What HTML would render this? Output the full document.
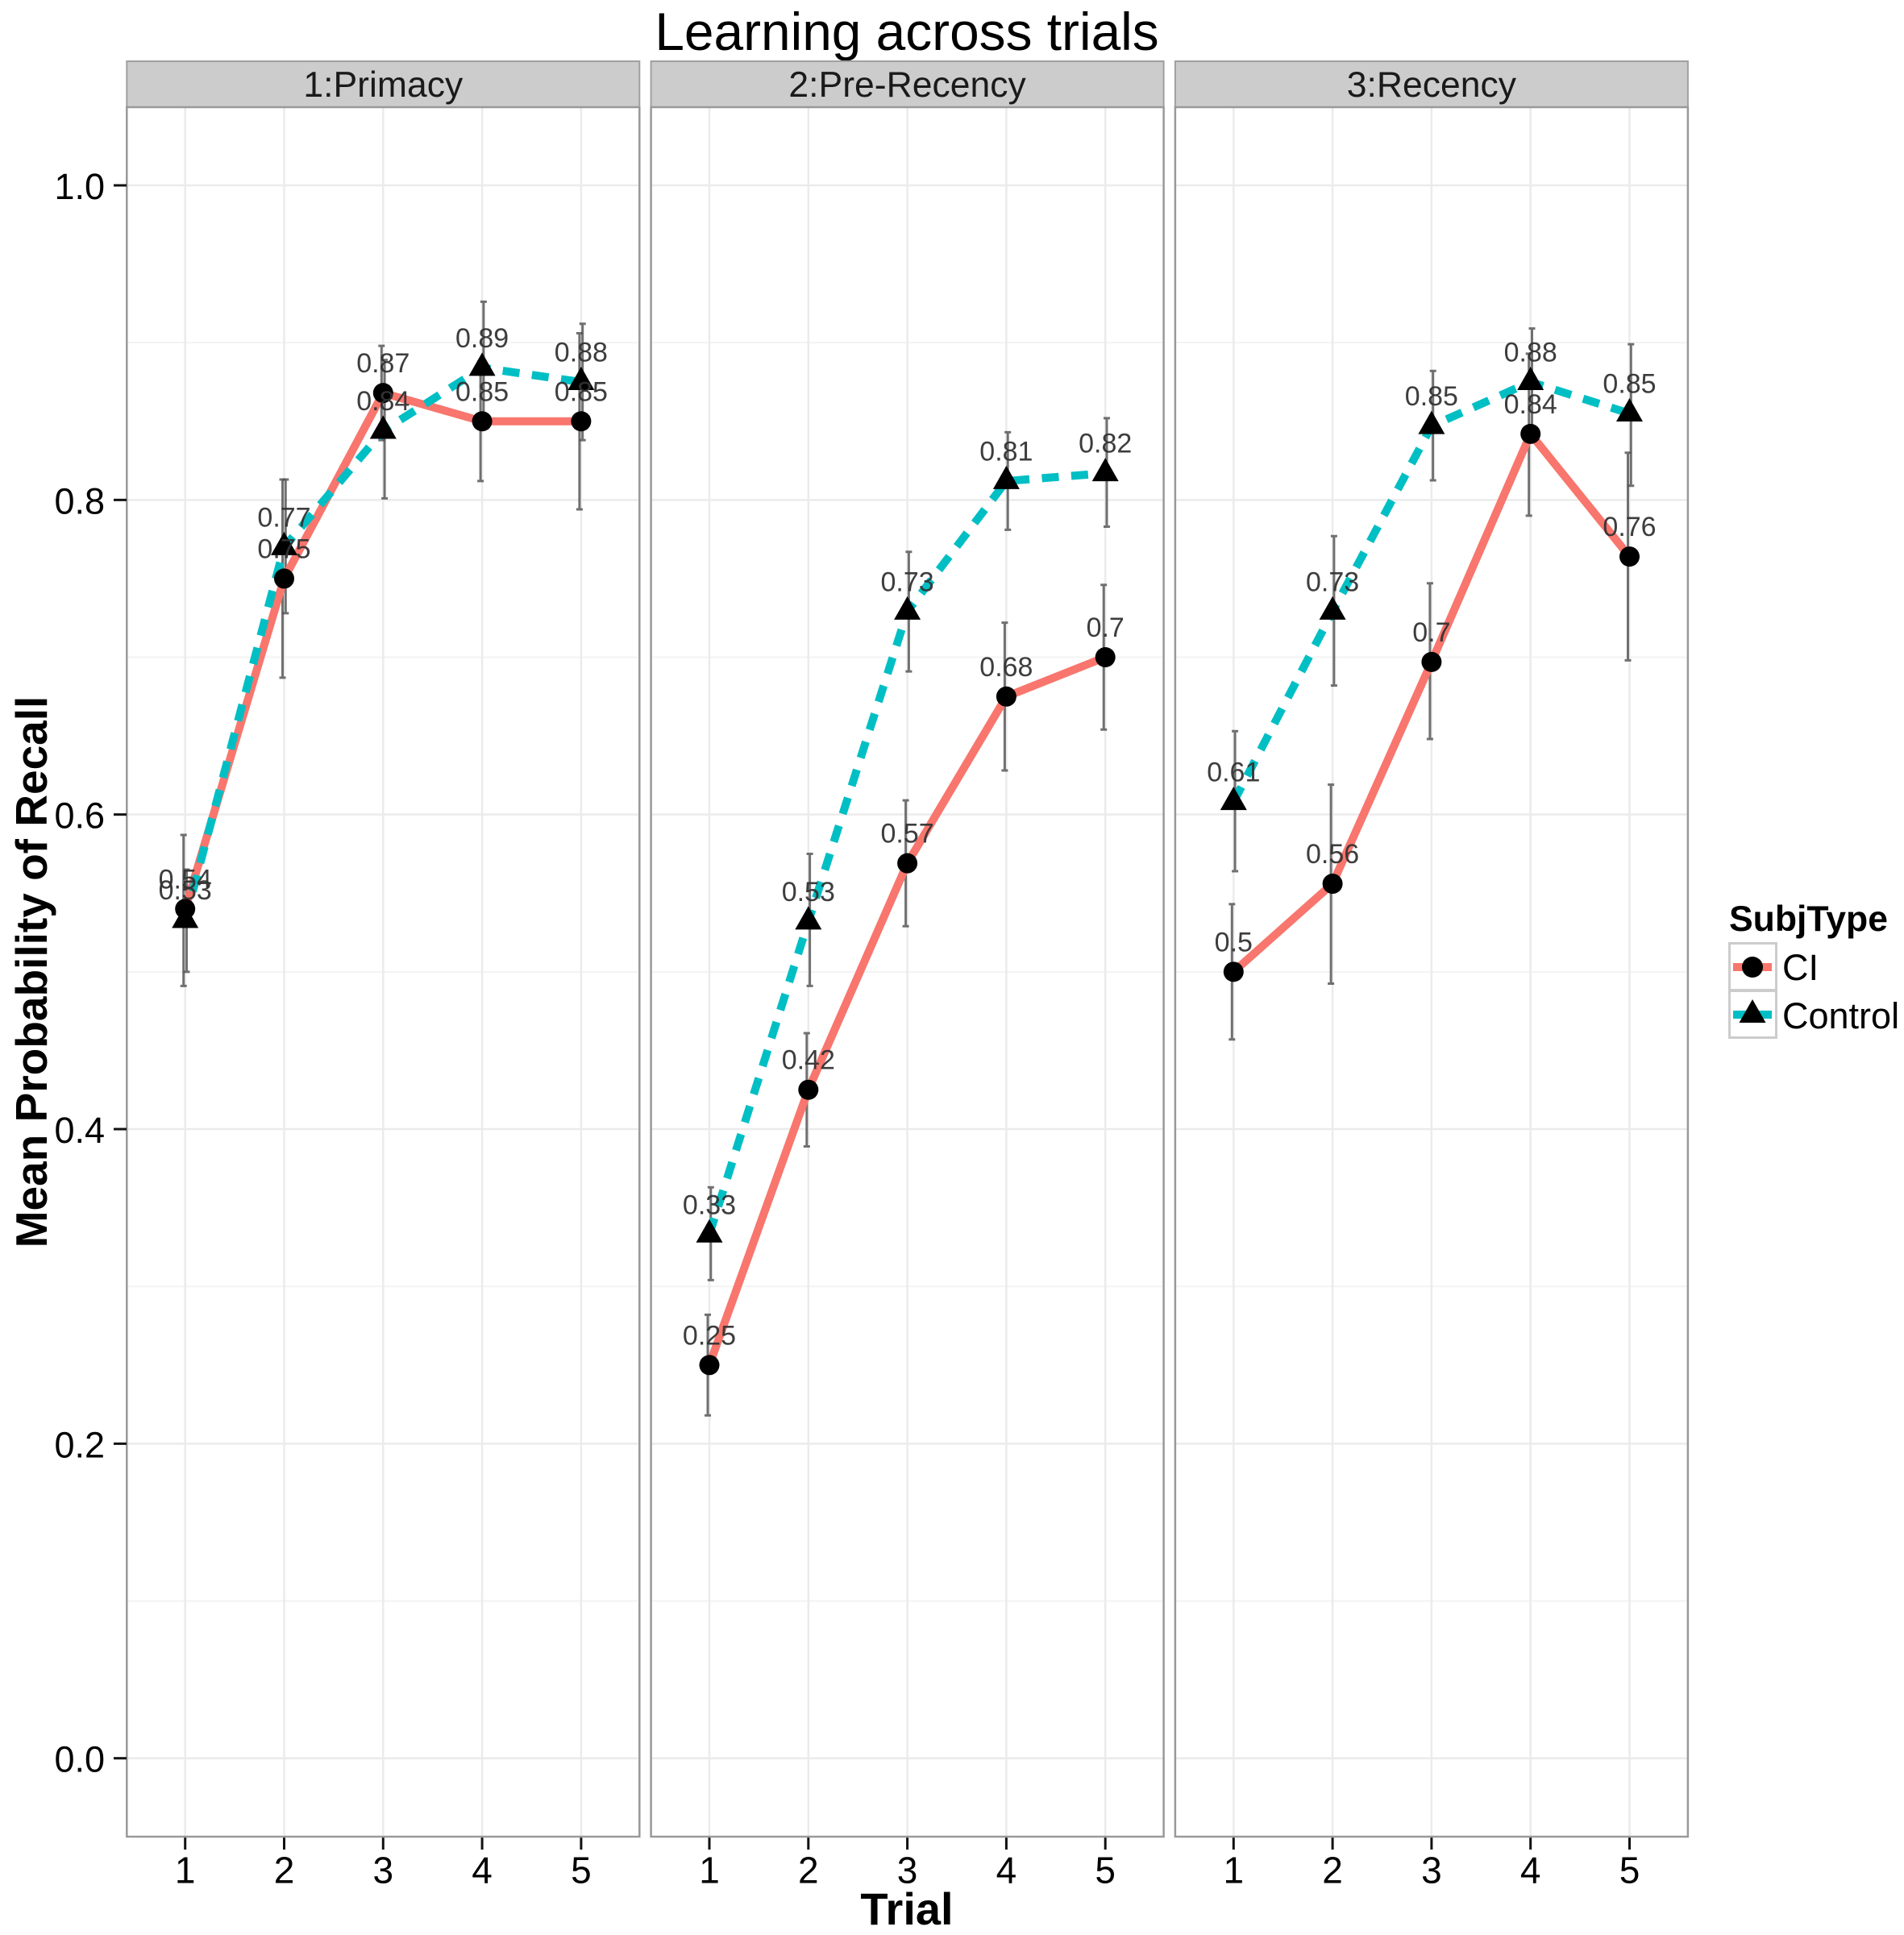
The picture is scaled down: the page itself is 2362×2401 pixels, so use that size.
<!DOCTYPE html>
<html>
<head>
<meta charset="utf-8">
<title>Learning across trials</title>
<style>
html,body{margin:0;padding:0;background:#fff;width:2362px;height:2401px;overflow:hidden}
svg{display:block}
text{font-family:"Liberation Sans",sans-serif}
</style>
</head>
<body>
<svg id="chart" xmlns="http://www.w3.org/2000/svg" width="2362" height="2401" viewBox="0 0 2362 2401">
  <rect x="0" y="0" width="2362" height="2401" fill="#fff"/>
  <text x="1125" y="62" font-size="65.8" text-anchor="middle" fill="#000">Learning across trials</text>
  <text x="1125" y="2388" font-size="56" font-weight="bold" text-anchor="middle" fill="#000">Trial</text>
  <text transform="translate(58,1206) rotate(-90)" font-size="55" font-weight="bold" text-anchor="middle" fill="#000">Mean Probability of Recall</text>
  <g>
    <text x="2145" y="1155" font-size="44.5" font-weight="bold" fill="#000">SubjType</text>
    <rect x="2145.5" y="1170.5" width="58" height="58" fill="#fff" stroke="#ccc" stroke-width="3"/>
    <line x1="2150" x2="2198" y1="1200" y2="1200" stroke="#F8766D" stroke-width="10"/>
    <circle cx="2174" cy="1200" r="13" fill="#000"/>
    <text x="2211" y="1216" font-size="45" fill="#000">CI</text>
    <rect x="2145.5" y="1229.5" width="58" height="58" fill="#fff" stroke="#ccc" stroke-width="3"/>
    <line x1="2150" x2="2198" y1="1259" y2="1259" stroke="#00BFC4" stroke-width="10"/>
    <polygon points="2174,1240 2190.5,1269 2157.5,1269" fill="#000"/>
    <text x="2211" y="1276" font-size="45" fill="#000">Control</text>
  </g>
</svg>
<script>
const trials = [1, 2, 3, 4, 5];
const panelNames = ["1:Primacy", "2:Pre-Recency", "3:Recency"];
const yMajorTicks = [0, 0.2, 0.4, 0.6, 0.8, 1.0];
const yMinorTicks = [0.1, 0.3, 0.5, 0.7, 0.9];

const primacyCI = [0.54, 0.75, 0.868, 0.85, 0.85];
const primacyControl = [0.533, 0.77, 0.844, 0.884, 0.875];
const preRecencyCI = [0.25, 0.425, 0.569, 0.675, 0.70];
const preRecencyControl = [0.333, 0.532, 0.729, 0.812, 0.817];
const recencyCI = [0.50, 0.556, 0.697, 0.842, 0.764];
const recencyControl = [0.608, 0.729, 0.847, 0.875, 0.855];

const primacyCILow = [0.491, 0.687, 0.838, 0.812, 0.794];
const primacyCIHigh = [0.587, 0.813, 0.898, 0.888, 0.906];
const primacyControlLow = [0.50, 0.728, 0.801, 0.846, 0.838];
const primacyControlHigh = [0.565, 0.813, 0.889, 0.926, 0.912];
const preRecencyCILow = [0.218, 0.389, 0.529, 0.628, 0.654];
const preRecencyCIHigh = [0.282, 0.461, 0.609, 0.722, 0.746];
const preRecencyControlLow = [0.304, 0.491, 0.691, 0.781, 0.783];
const preRecencyControlHigh = [0.363, 0.575, 0.767, 0.843, 0.852];
const recencyCILow = [0.457, 0.4925, 0.648, 0.79, 0.698];
const recencyCIHigh = [0.543, 0.619, 0.747, 0.893, 0.83];
const recencyControlLow = [0.564, 0.682, 0.8125, 0.84, 0.809];
const recencyControlHigh = [0.653, 0.777, 0.882, 0.909, 0.899];

const primacyCILabels = ["0.54", "0.75", "0.87", "0.85", "0.85"];
const primacyControlLabels = ["0.53", "0.77", "0.84", "0.89", "0.88"];
const preRecencyCILabels = ["0.25", "0.42", "0.57", "0.68", "0.7"];
const preRecencyControlLabels = ["0.33", "0.53", "0.73", "0.81", "0.82"];
const recencyCILabels = ["0.5", "0.56", "0.7", "0.84", "0.76"];
const recencyControlLabels = ["0.61", "0.73", "0.85", "0.88", "0.85"];

const ciSeries = [primacyCI, preRecencyCI, recencyCI];
const controlSeries = [primacyControl, preRecencyControl, recencyControl];
const ciLow = [primacyCILow, preRecencyCILow, recencyCILow];
const ciHigh = [primacyCIHigh, preRecencyCIHigh, recencyCIHigh];
const controlLow = [primacyControlLow, preRecencyControlLow, recencyControlLow];
const controlHigh = [primacyControlHigh, preRecencyControlHigh, recencyControlHigh];
const ciLabels = [primacyCILabels, preRecencyCILabels, recencyCILabels];
const controlLabels = [primacyControlLabels, preRecencyControlLabels, recencyControlLabels];

const NS = "http://www.w3.org/2000/svg";
const svg = document.getElementById("chart");
const panelW = 636, panelGap = 14.3, panelX0 = 157.3;
const panelTop = 133, panelBottom = 2279, stripTop = 76;
const xStep = 122.8, xOffset = 72.4;

function panelLeft(p) { return panelX0 + p * (panelW + panelGap); }
function xScale(p, t) { return panelLeft(p) + xOffset + (t - 1) * xStep; }
function yScale(v) { return 2181.7 - 1951.7 * v; }
function el(tag, attrs, parent, text) {
  const n = document.createElementNS(NS, tag);
  for (const k in attrs) n.setAttribute(k, attrs[k]);
  if (text !== undefined) n.textContent = text;
  parent.appendChild(n);
  return n;
}

function drawErrorBars(g, p, low, high, dx, key) {
  trials.forEach(function (t, i) {
    const x = xScale(p, t) + dx;
    const bar = el("path", {
      d: "M" + (x - 4) + " " + yScale(high[i]) + "H" + (x + 4) + "M" + x + " " + yScale(high[i]) + "V" + yScale(low[i]) + "M" + (x - 4) + " " + yScale(low[i]) + "H" + (x + 4),
      fill: "none", stroke: "#4d4d4d", "stroke-opacity": "0.8", "stroke-width": "3"
    }, g);
    
    
  });
}

function drawLine(g, p, values, color, dash, key) {
  const pts = trials.map(function (t, i) { return xScale(p, t) + "," + yScale(values[i]); }).join(" ");
  const attrs = { points: pts, fill: "none", stroke: color, "stroke-width": "10", "stroke-linejoin": "round" };
  if (dash) attrs["stroke-dasharray"] = dash;
  const line = el("polyline", attrs, g);
  
  
}

panelNames.forEach(function (name, p) {
  const left = panelLeft(p);
  const g = el("g", {}, svg);
  
  

  const strip = el("rect", { x: left, y: stripTop, width: panelW, height: panelTop - stripTop, fill: "#cccccc", stroke: "#a0a0a0", "stroke-width": "2" }, g);
  
  
  const stripLabel = el("text", { x: left + panelW / 2, y: 120, "font-size": "44.5", "text-anchor": "middle", fill: "#1a1a1a" }, g, name);
  
  

  yMinorTicks.forEach(function (v) {
    const m = el("line", { x1: left, x2: left + panelW, y1: yScale(v), y2: yScale(v), stroke: "#f3f3f3", "stroke-width": "2" }, g);
    
    
  });
  yMajorTicks.forEach(function (v) {
    const m = el("line", { x1: left, x2: left + panelW, y1: yScale(v), y2: yScale(v), stroke: "#ebebeb", "stroke-width": "2.5" }, g);
    
    
  });
  trials.forEach(function (t) {
    const m = el("line", { x1: xScale(p, t), x2: xScale(p, t), y1: panelTop, y2: panelBottom, stroke: "#ebebeb", "stroke-width": "2.5" }, g);
    
    
    const tick = el("line", { x1: xScale(p, t), x2: xScale(p, t), y1: panelBottom, y2: panelBottom + 16, stroke: "#111", "stroke-width": "3" }, g);
    
    
    const lab = el("text", { x: xScale(p, t), y: 2336.5, "font-size": "46", "text-anchor": "middle", fill: "#000" }, g, String(t));
    
    
  });

  drawErrorBars(g, p, ciLow[p], ciHigh[p], -2, "ci");
  drawErrorBars(g, p, controlLow[p], controlHigh[p], 1.8, "control");
  drawLine(g, p, ciSeries[p], "#F8766D", null, "ci");
  drawLine(g, p, controlSeries[p], "#00BFC4", "21 15.5", "control");

  trials.forEach(function (t, i) {
    const cx = xScale(p, t);
    const cy = yScale(ciSeries[p][i]);
    const dot = el("circle", { cx: cx, cy: cy, r: 12.5, fill: "#000" }, g);
    
    
  });
  trials.forEach(function (t, i) {
    const cx = xScale(p, t);
    const cy = yScale(controlSeries[p][i]);
    const tri = el("polygon", { points: cx + "," + (cy - 19) + " " + (cx + 16.5) + "," + (cy + 10) + " " + (cx - 16.5) + "," + (cy + 10), fill: "#000" }, g);
    
    
  });
  trials.forEach(function (t, i) {
    const a = el("text", { x: xScale(p, t), y: yScale(ciSeries[p][i]) - 25.5, "font-size": "34", "text-anchor": "middle", fill: "#333", "fill-opacity": "0.95" }, g, ciLabels[p][i]);
    
    
    const b = el("text", { x: xScale(p, t), y: yScale(controlSeries[p][i]) - 25.5, "font-size": "34", "text-anchor": "middle", fill: "#333", "fill-opacity": "0.95" }, g, controlLabels[p][i]);
    
    
  });

  const border = el("rect", { x: left, y: panelTop, width: panelW, height: panelBottom - panelTop, fill: "none", stroke: "#999", "stroke-width": "2.5" }, g);
  
  
});

yMajorTicks.forEach(function (v) {
  const tick = el("line", { x1: 141, x2: 157, y1: yScale(v), y2: yScale(v), stroke: "#111", "stroke-width": "3" }, svg);
  
  
  const lab = el("text", { x: 130, y: yScale(v) + 17, "font-size": "45", "text-anchor": "end", fill: "#000" }, svg, v.toFixed(1));
  
  
});
</script>
</body>
</html>
